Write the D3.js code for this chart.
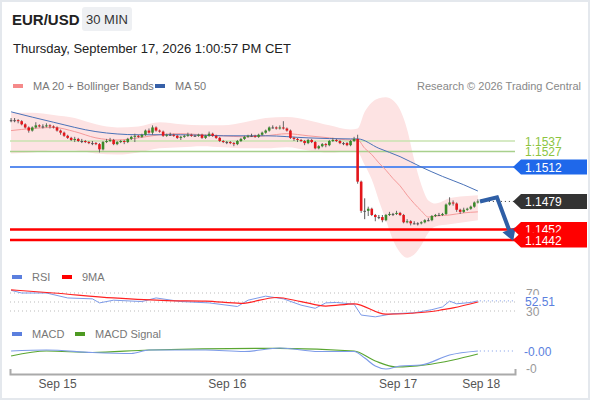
<!DOCTYPE html>
<html>
<head>
<meta charset="utf-8">
<script src="https://cdn.jsdelivr.net/npm/d3@7"></script>
<style>
body { margin: 0; background: #fff; }
svg { display: block; font-family: "Liberation Sans", Arial, sans-serif; }
</style>
</head>
<body>
<svg id="chart"></svg>
<script>
// 30 min EUR/USD candles, index 0 = first candle on the left
let open = [
    1.1557,1.1557,1.1557,1.1556,1.1553,1.1550,1.1547,1.1550,1.1552,1.1551,
    1.1551,1.1552,1.1551,1.1550,1.1547,1.1545,1.1542,1.1540,1.1538,1.1539,
    1.1537,1.1537,1.1536,1.1535,1.1535,1.1534,1.1529,1.1536,1.1537,1.1538,
    1.1534,1.1536,1.1537,1.1536,1.1539,1.1541,1.1542,1.1541,1.1543,1.1547,
    1.1545,1.1550,1.1547,1.1546,1.1542,1.1543,1.1543,1.1542,1.1540,1.1541,
    1.1542,1.1543,1.1542,1.1542,1.1543,1.1540,1.1542,1.1544,1.1542,1.1540,
    1.1537,1.1536,1.1536,1.1535,1.1534,1.1537,1.1539,1.1541,1.1542,1.1542,
    1.1541,1.1543,1.1545,1.1547,1.1550,1.1550,1.1549,1.1550,1.1549,1.1547,
    1.1540,1.1539,1.1538,1.1537,1.1535,1.1538,1.1536,1.1530,1.1532,1.1534,
    1.1533,1.1537,1.1538,1.1537,1.1535,1.1535,1.1533,1.1537,1.1539,1.1498,
    1.1470,1.1470,1.1472,1.1466,1.1464,1.1464,1.1461,1.1466,1.1467,1.1467,
    1.1468,1.1466,1.1459,1.1460,1.1458,1.1458,1.1458,1.1459,1.1461,1.1461,
    1.1465,1.1466,1.1466,1.1467,1.1476,1.1478,1.1477,1.1471,1.1469,1.1471,
    1.1472,1.1474,1.1478
];
let close = [
    1.1557,1.1557,1.1556,1.1553,1.1550,1.1547,1.1550,1.1552,1.1551,1.1551,
    1.1552,1.1551,1.1550,1.1547,1.1545,1.1542,1.1540,1.1538,1.1539,1.1537,
    1.1537,1.1536,1.1535,1.1535,1.1534,1.1529,1.1536,1.1537,1.1538,1.1534,
    1.1536,1.1537,1.1536,1.1539,1.1541,1.1542,1.1541,1.1543,1.1547,1.1545,
    1.1550,1.1547,1.1546,1.1542,1.1543,1.1543,1.1542,1.1540,1.1541,1.1542,
    1.1543,1.1542,1.1542,1.1543,1.1540,1.1542,1.1544,1.1542,1.1540,1.1537,
    1.1536,1.1536,1.1535,1.1534,1.1537,1.1539,1.1541,1.1542,1.1542,1.1541,
    1.1543,1.1545,1.1547,1.1550,1.1550,1.1549,1.1550,1.1549,1.1547,1.1540,
    1.1539,1.1538,1.1537,1.1535,1.1538,1.1536,1.1530,1.1532,1.1534,1.1533,
    1.1537,1.1538,1.1537,1.1535,1.1535,1.1533,1.1537,1.1539,1.1498,1.1470,
    1.1470,1.1472,1.1466,1.1464,1.1464,1.1461,1.1466,1.1467,1.1467,1.1468,
    1.1466,1.1459,1.1460,1.1458,1.1458,1.1458,1.1459,1.1461,1.1461,1.1465,
    1.1466,1.1466,1.1467,1.1476,1.1478,1.1477,1.1471,1.1469,1.1471,1.1472,
    1.1474,1.1478,1.1479
];
let high = [
    1.1559,1.1559,1.1558,1.1557,1.1554,1.1551,1.1551,1.1555,1.1553,1.1553,
    1.1554,1.1553,1.1552,1.1551,1.1548,1.1546,1.1543,1.1541,1.1541,1.1540,
    1.1539,1.1538,1.1537,1.1537,1.1536,1.1535,1.1537,1.1539,1.1540,1.1539,
    1.1537,1.1538,1.1538,1.1540,1.1542,1.1544,1.1543,1.1544,1.1548,1.1549,
    1.1552,1.1551,1.1548,1.1547,1.1544,1.1545,1.1544,1.1543,1.1542,1.1543,
    1.1545,1.1544,1.1543,1.1544,1.1544,1.1543,1.1546,1.1545,1.1543,1.1541,
    1.1538,1.1537,1.1537,1.1536,1.1538,1.1540,1.1542,1.1543,1.1544,1.1543,
    1.1544,1.1546,1.1548,1.1551,1.1552,1.1551,1.1552,1.1556,1.1550,1.1548,
    1.1541,1.1540,1.1539,1.1538,1.1539,1.1539,1.1537,1.1533,1.1535,1.1535,
    1.1538,1.1540,1.1539,1.1538,1.1536,1.1536,1.1538,1.1541,1.1543,1.1499,
    1.1482,1.1474,1.1473,1.1467,1.1466,1.1466,1.1467,1.1469,1.1468,1.1470,
    1.1469,1.1467,1.1462,1.1461,1.1460,1.1459,1.1460,1.1462,1.1463,1.1466,
    1.1467,1.1468,1.1468,1.1477,1.1483,1.1480,1.1478,1.1472,1.1473,1.1473,
    1.1475,1.1479,1.1481
];
let low = [
    1.1555,1.1555,1.1554,1.1552,1.1549,1.1545,1.1546,1.1549,1.1550,1.1549,
    1.1550,1.1549,1.1549,1.1546,1.1543,1.1541,1.1539,1.1537,1.1536,1.1536,
    1.1535,1.1535,1.1534,1.1533,1.1533,1.1526,1.1528,1.1535,1.1536,1.1533,
    1.1533,1.1535,1.1534,1.1535,1.1538,1.1536,1.1540,1.1540,1.1542,1.1544,
    1.1543,1.1546,1.1545,1.1541,1.1541,1.1542,1.1541,1.1539,1.1538,1.1540,
    1.1541,1.1541,1.1541,1.1541,1.1539,1.1539,1.1541,1.1541,1.1539,1.1536,
    1.1535,1.1534,1.1534,1.1532,1.1533,1.1536,1.1538,1.1540,1.1541,1.1540,
    1.1540,1.1542,1.1544,1.1546,1.1549,1.1548,1.1548,1.1548,1.1546,1.1539,
    1.1537,1.1536,1.1536,1.1533,1.1534,1.1535,1.1529,1.1529,1.1531,1.1531,
    1.1532,1.1536,1.1536,1.1534,1.1533,1.1532,1.1532,1.1536,1.1496,1.1468,
    1.1462,1.1465,1.1465,1.1460,1.1462,1.1459,1.1460,1.1465,1.1465,1.1466,
    1.1465,1.1458,1.1458,1.1456,1.1457,1.1456,1.1457,1.1458,1.1460,1.1460,
    1.1464,1.1465,1.1465,1.1466,1.1475,1.1475,1.1469,1.1467,1.1468,1.1470,
    1.1471,1.1473,1.1477
];

// MA 20 + Bollinger Bands, read at these candle indexes
let bandIdx = [0,6,12,18,24,30,36,42,48,54,60,66,72,78,84,90,96,98,100,102,104,106,108,110,112,114,116,118,120,124,128,132];
let ma20 = [1.1547,1.1549,1.1550,1.1546,1.1540,1.1538,1.1540,1.1543,1.1544,1.1543,1.1542,1.1541,1.1542,1.1544,1.1542,1.1540,1.1538,1.1538,1.1530,1.1524,1.1516,1.1509,1.1501,1.1494,1.1485,1.1477,1.1470,1.1464,1.1465,1.1466,1.1468,1.1469];
let bbUpper = [1.1564,1.1564,1.1562,1.1559,1.1553,1.1550,1.1551,1.1555,1.1553,1.1552,1.1552,1.1555,1.1559,1.1560,1.1557,1.1552,1.1548,1.1549,1.1565,1.1574,1.1578,1.1579,1.1576,1.1567,1.1548,1.1519,1.1495,1.1480,1.1477,1.1482,1.1484,1.1485];
let bbLower = [1.1525,1.1526,1.1528,1.1528,1.1525,1.1524,1.1526,1.1530,1.1531,1.1532,1.1531,1.1530,1.1530,1.1531,1.1528,1.1526,1.1527,1.1526,1.1514,1.1500,1.1480,1.1461,1.1442,1.1430,1.1425,1.1428,1.1437,1.1449,1.1455,1.1457,1.1459,1.1461];

// MA 50
let ma50Idx = [0,12,24,36,48,60,72,84,96,98,104,110,116,122,128,132];
let ma50 = [1.1565,1.1555,1.1546,1.1543,1.1543,1.1542,1.1542,1.1540,1.1539,1.1539,1.1530,1.1522,1.1512,1.1503,1.1495,1.1489];

// key levels
let levels = [1.1537, 1.1527, 1.1512, 1.1479, 1.1452, 1.1442];
let lastPrice = 1.1479;

// forecast arrow path (index, price)
let arrowIdx = [132.6, 137.4, 142];
let arrowPrice = [1.1479, 1.1483, 1.1441];

// RSI and its 9 period MA
let rsiIdx = [0,3,10,16,23,25,29,37,41,48,56,64,67,72,77,82,86,89,92,97,99,103,108,114,119,122,124,126,130,132];
let rsi = [76,70,70,59,57,48,54,51,59,51,48,40,54,63,57,43,36,48,49,45,21,17,24,26,33,39,52,46,49,52.51];
let rsiMaIdx = [0,12,29,44,55,65,75,82,89,97,106,113,120,122,125,132];
let rsiMa = [77,70,59,53,52,47,60,51,41,46,23,25,30,33,37,50];

// MACD and signal
let macdIdx = [0,10,23,34,39,55,66,76,87,97,100,103,106,110,116,124,132];
let macd = [-0.0001,0,-0.00025,-0.00035,0,0,-0.00015,0.0002,-0.00015,-0.00015,-0.0008,-0.0016,-0.0019,-0.0016,-0.0015,-0.0005,-0.0001];
let sigIdx = [0,10,23,39,76,97,103,109,117,125,132];
let signal = [-0.0006,-0.0001,-0.00025,0,0.00016,-0.0001,-0.0011,-0.0017,-0.0015,-0.0010,-0.0004];

// x axis
let dayIdx = [13, 61, 109.3, 132.8];
let dayLabels = ["Sep 15", "Sep 16", "Sep 17", "Sep 18"];

let width = 590,
    height = 400;

let svg = d3.select("svg#chart")
    .attr("width", width)
    .attr("height", height);

svg.append("rect")
    .attr("x", 1).attr("y", 1)
    .attr("width", width - 2).attr("height", height - 2)
    .attr("fill", "#fff")
    .attr("stroke", "#e4e8ed")
    .attr("stroke-width", 2);

let x = d3.scaleLinear().domain([-0.3, 142.5]).range([10, 515]);
let y = d3.scaleLinear().domain([1.1442, 1.1537]).range([240, 141]);
let yRsi = d3.scaleLinear().domain([30, 70]).range([311, 293]);
let yMacd = d3.scaleLinear().domain([-0.0018, 0]).range([368, 350]);

let xLeft = x.range()[0], xRight = x.range()[1];

// header
svg.append("text").attr("x", 12).attr("y", 25)
    .attr("font-size", 15).attr("font-weight", "bold").attr("fill", "#222")
    .text("EUR/USD");
svg.append("rect").attr("x", 82).attr("y", 7).attr("width", 50).attr("height", 24)
    .attr("rx", 3).attr("fill", "#eef0f3");
svg.append("text").attr("x", 107).attr("y", 24).attr("text-anchor", "middle")
    .attr("font-size", 13).attr("fill", "#333").text("30 MIN");
svg.append("text").attr("x", 13).attr("y", 53)
    .attr("font-size", 13).attr("fill", "#222")
    .text("Thursday, September 17, 2026 1:00:57 PM CET");

function legend(items, yPos) {
    items.forEach(it => {
        svg.append("rect").attr("x", it[0]).attr("y", yPos - 2).attr("width", 10).attr("height", 4)
            .attr("fill", it[2]);
        svg.append("text").attr("x", it[0] + 20).attr("y", yPos + 4)
            .attr("font-size", 11).attr("fill", "#777").text(it[1]);
    });
}
legend([[13, "MA 20 + Bollinger Bands", "#f58a8a"], [155, "MA 50", "#3660a8"]], 86);
svg.append("text").attr("x", 581).attr("y", 90).attr("text-anchor", "end")
    .attr("font-size", 11).attr("fill", "#888").text("Research \u00a9 2026 Trading Central");

// bollinger band + moving averages
let band = bandIdx.map((d, k) => ({i: d, up: bbUpper[k], lo: bbLower[k], ma: ma20[k]}));
svg.append("path")
    .datum(band)
    .attr("fill", "#fde3e3")
    .attr("d", d3.area().curve(d3.curveMonotoneX)
        .x(d => x(d.i)).y0(d => y(d.lo)).y1(d => y(d.up)));

// level lines
let levelStyle = [
    {color: "#c9e3b0", w: 1.5},
    {color: "#a8d08c", w: 1.5},
    {color: "#5b8def", w: 2},
    null,
    {color: "#ff0000", w: 2.5},
    {color: "#ff0000", w: 2.5}
];
levels.forEach((v, k) => {
    if (!levelStyle[k]) return;
    svg.append("line")
        .attr("x1", xLeft).attr("x2", xRight)
        .attr("y1", y(v)).attr("y2", y(v))
        .attr("stroke", levelStyle[k].color)
        .attr("stroke-width", levelStyle[k].w);
});

svg.append("path")
    .datum(band)
    .attr("fill", "none").attr("stroke", "#f59a9a").attr("stroke-width", 1)
    .attr("d", d3.line().curve(d3.curveMonotoneX).x(d => x(d.i)).y(d => y(d.ma)));

svg.append("path")
    .datum(ma50)
    .attr("fill", "none").attr("stroke", "#4a72b8").attr("stroke-width", 1)
    .attr("d", d3.line().curve(d3.curveMonotoneX).x((d, k) => x(ma50Idx[k])).y(d => y(d)));

// candles
let candles = close.map((c, i) => ({i: i, o: open[i], h: high[i], l: low[i], c: c}));
let candleColor = d => d.c > d.o ? "#3a8a2a" : (d.c < d.o ? "#e3161b" : "#555");

svg.append("g").selectAll("line")
    .data(candles)
    .enter().append("line")
    .attr("x1", d => x(d.i)).attr("x2", d => x(d.i))
    .attr("y1", d => y(d.h)).attr("y2", d => y(d.l))
    .attr("stroke", d => d.c === d.o ? "#555" : "#666")
    .attr("stroke-width", 1);

svg.append("g").selectAll("rect")
    .data(candles)
    .enter().append("rect")
    .attr("x", d => x(d.i) - 1.3)
    .attr("width", 2.6)
    .attr("y", d => y(Math.max(d.o, d.c)))
    .attr("height", d => Math.max(1, Math.abs(y(d.o) - y(d.c))))
    .attr("fill", candleColor);

// last price dotted line
svg.append("line")
    .attr("x1", x(candles.length - 1) + 3).attr("x2", xRight)
    .attr("y1", y(lastPrice)).attr("y2", y(lastPrice))
    .attr("stroke", "#333").attr("stroke-dasharray", "1,3");

// forecast arrow
let pts = arrowIdx.map((d, k) => [x(d), y(arrowPrice[k])]);
let tip = pts[pts.length - 1], prev = pts[pts.length - 2];
let len = Math.hypot(tip[0] - prev[0], tip[1] - prev[1]);
let ux = (tip[0] - prev[0]) / len, uy = (tip[1] - prev[1]) / len;
let base = [tip[0] - 12 * ux, tip[1] - 12 * uy];
svg.append("path")
    .attr("d", d3.line()([pts[0], pts[1], base]))
    .attr("fill", "none").attr("stroke", "#2f5fa6").attr("stroke-width", 4)
    .attr("stroke-linejoin", "miter");
svg.append("path")
    .attr("d", d3.line()([tip, [base[0] + 7 * uy, base[1] - 7 * ux], [base[0] - 7 * uy, base[1] + 7 * ux]]) + "Z")
    .attr("fill", "#2f5fa6");

// price tags
function tag(v, fill) {
    let yc = y(v), h = 15;
    svg.append("path")
        .attr("d", `M${xRight - 2},${yc} L${xRight + 6},${yc - h / 2} L587,${yc - h / 2} L587,${yc + h / 2} L${xRight + 6},${yc + h / 2} Z`)
        .attr("fill", fill);
    svg.append("text").attr("x", 525).attr("y", yc + 4.5)
        .attr("font-size", 12).attr("fill", "#fff").text(v.toFixed(4));
}
[levels[1], levels[0]].forEach(v => {
    svg.append("rect").attr("x", 521).attr("y", y(v) - 7).attr("width", 40).attr("height", 12).attr("fill", "#fff");
    svg.append("text").attr("x", 525).attr("y", y(v) + 5)
        .attr("font-size", 12).attr("fill", "#8cc43f").text(v.toFixed(4));
});
tag(levels[2], "#1f68ea");
tag(levels[3], "#333333");
tag(levels[4], "#ff0000");
tag(levels[5], "#ff0000");

// RSI panel
legend([[12, "RSI", "#5b7fde"], [62, "9MA", "#ff0000"]], 277);
[70, 50, 30].forEach(v => {
    svg.append("line")
        .attr("x1", xLeft).attr("x2", xRight)
        .attr("y1", yRsi(v)).attr("y2", yRsi(v))
        .attr("stroke", "#bbb").attr("stroke-dasharray", "1,3");
});
svg.append("path")
    .datum(rsi)
    .attr("fill", "none").attr("stroke", "#7d9be8").attr("stroke-width", 1)
    .attr("d", d3.line().x((d, k) => x(rsiIdx[k])).y(d => yRsi(d)));
svg.append("path")
    .datum(rsiMa)
    .attr("fill", "none").attr("stroke", "#f22").attr("stroke-width", 1.2)
    .attr("d", d3.line().curve(d3.curveMonotoneX).x((d, k) => x(rsiMaIdx[k])).y(d => yRsi(d)));
let rsiLast = rsi[rsi.length - 1];
svg.append("line")
    .attr("x1", x(rsiIdx[rsiIdx.length - 1]) + 2).attr("x2", xRight)
    .attr("y1", yRsi(rsiLast)).attr("y2", yRsi(rsiLast))
    .attr("stroke", "#7d9be8").attr("stroke-dasharray", "1,3");
[70, 30].forEach(v => {
    svg.append("text").attr("x", 526).attr("y", yRsi(v) + 4.5)
        .attr("font-size", 12).attr("fill", "#999").text(v);
});
svg.append("rect").attr("x", 522).attr("y", yRsi(rsiLast) - 6).attr("width", 36).attr("height", 12).attr("fill", "#fff");
svg.append("text").attr("x", 525).attr("y", yRsi(rsiLast) + 5)
    .attr("font-size", 12).attr("fill", "#5b7fde").text(rsiLast.toFixed(2));

// MACD panel
legend([[12, "MACD", "#5b7fde"], [75, "MACD Signal", "#4e9a22"]], 334);
svg.append("path")
    .datum(signal)
    .attr("fill", "none").attr("stroke", "#5aa631").attr("stroke-width", 1.2)
    .attr("d", d3.line().curve(d3.curveMonotoneX).x((d, k) => x(sigIdx[k])).y(d => yMacd(d)));
svg.append("path")
    .datum(macd)
    .attr("fill", "none").attr("stroke", "#7d9be8").attr("stroke-width", 1.2)
    .attr("d", d3.line().curve(d3.curveMonotoneX).x((d, k) => x(macdIdx[k])).y(d => yMacd(d)));
let macdLast = macd[macd.length - 1];
svg.append("line")
    .attr("x1", x(macdIdx[macdIdx.length - 1]) + 2).attr("x2", xRight)
    .attr("y1", yMacd(macdLast)).attr("y2", yMacd(macdLast))
    .attr("stroke", "#7d9be8").attr("stroke-dasharray", "1,3");
svg.append("text").attr("x", 524).attr("y", yMacd(macdLast) + 4.5)
    .attr("font-size", 12).attr("fill", "#5b7fde").text("-" + Math.abs(macdLast).toFixed(2));
svg.append("text").attr("x", 526).attr("y", yMacd(-0.0018) + 4.5)
    .attr("font-size", 12).attr("fill", "#999").text("-0");

// x axis
let xAxis = svg.append("g")
    .attr("transform", "translate(0, 374)")
    .call(d3.axisBottom(x)
        .tickValues(dayIdx)
        .tickFormat((d, k) => dayLabels[k])
        .tickSize(0)
        .tickSizeOuter(-5)
        .tickPadding(5));
xAxis.select(".domain").attr("stroke", "#aaa").attr("stroke-width", 2);
xAxis.selectAll("text")
    .attr("font-size", 12).attr("fill", "#555")
    .attr("font-family", "Liberation Sans, Arial, sans-serif");
</script>
</body>
</html>
